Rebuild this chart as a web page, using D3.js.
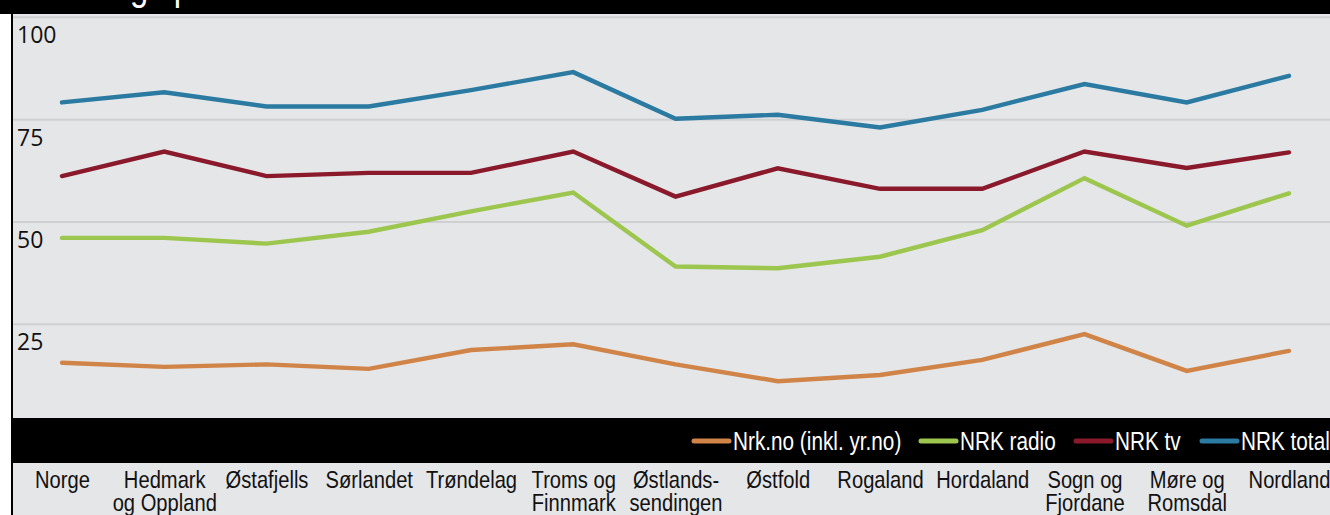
<!DOCTYPE html>
<html><head><meta charset="utf-8">
<script src="https://cdn.jsdelivr.net/npm/d3@7"></script>
<style>
html,body{margin:0;padding:0;background:#fff;}
svg{display:block;}
</style></head>
<body>
<svg id="c" width="1330" height="515"></svg>
<script>
const title = "Dekning i prosent";
const categories = [["Norge"],["Hedmark","og Oppland"],["Østafjells"],["Sørlandet"],["Trøndelag"],["Troms og","Finnmark"],["Østlands-","sendingen"],["Østfold"],["Rogaland"],["Hordaland"],["Sogn og","Fjordane"],["Møre og","Romsdal"],["Nordland"]];
const seriesNames = ["Nrk.no (inkl. yr.no)","NRK radio","NRK tv","NRK total"];
const nrkNo    = [15.6, 14.6, 15.2, 14.1, 18.7, 20.1, 15.2, 11.1, 12.6, 16.3, 22.6, 13.6, 18.5];
const nrkRadio = [46.1, 46.1, 44.7, 47.6, 52.6, 57.2, 39.1, 38.7, 41.5, 48.0, 60.7, 49.1, 57.0];
const nrkTv    = [61.2, 67.2, 61.2, 62.0, 62.0, 67.2, 56.2, 63.1, 58.1, 58.1, 67.2, 63.2, 67.0];
const nrkTotal = [79.2, 81.7, 78.2, 78.2, 82.2, 86.6, 75.2, 76.2, 73.1, 77.4, 83.7, 79.2, 85.7];
const yTicks = [25, 50, 75, 100];
const colors = ["#d08448", "#9dc64e", "#8a1a2b", "#2a7aa1"];

const svg = d3.select("#c");
const W = 1330, H = 515;
const COND = "Liberation Sans Narrow, Liberation Sans, Arial, sans-serif";
const keys = categories.map(c => c.join(" "));
const x = d3.scalePoint().domain(keys).range([62, 1289]);
const y = d3.scaleLinear().domain([0, 100]).range([426.6, 17.3]);

// backgrounds
svg.append("rect").attr("x", 12).attr("y", 0).attr("width", W - 12).attr("height", H).attr("fill", "#e5e6e8");
svg.append("rect").attr("x", 0).attr("y", 0).attr("width", W).attr("height", 14).attr("fill", "#000");
svg.append("text").attr("transform", "translate(28,0) scale(0.82,1)").attr("fill", "#fff")
  .attr("font-family", COND).attr("font-size", 40)
  .text(title);

// grid
const grid = svg.append("g");
grid.selectAll("line").data(yTicks).join("line")
  .attr("x1", 13).attr("x2", W).attr("y1", d => y(d)).attr("y2", d => y(d))
  .attr("stroke", "#cfd0d2").attr("stroke-width", 2);
grid.selectAll("text").data(yTicks).join("text")
  .attr("x", 17).attr("y", d => y(d) + 26)
  .attr("font-family", "Open Sans, Noto Sans, sans-serif").attr("font-size", 23).attr("fill", "#111")
  .text(d => d);

// lines
const all = [nrkNo, nrkRadio, nrkTv, nrkTotal];
const line = d3.line().x((d, i) => x(keys[i])).y(d => y(d));
svg.append("g").selectAll("path").data(all).join("path")
  .attr("d", d => line(d)).attr("fill", "none")
  .attr("stroke", (d, i) => colors[i]).attr("stroke-width", 4.4)
  .attr("stroke-linecap", "round").attr("stroke-linejoin", "miter");

// legend band
svg.append("rect").attr("x", 12).attr("y", 418).attr("width", W - 12).attr("height", 45).attr("fill", "#000");
const legX = [694, 921, 1076, 1202];
const lg = svg.append("g").selectAll("g").data(seriesNames).join("g")
  .attr("transform", (d, i) => `translate(${legX[i]},441)`);
lg.append("line").attr("x1", 0).attr("x2", 35).attr("y1", 0).attr("y2", 0)
  .attr("stroke", (d, i) => colors[i]).attr("stroke-width", 5).attr("stroke-linecap", "round");
lg.append("text").attr("transform", "translate(39,9) scale(0.83,1)").attr("fill", "#fff")
  .attr("font-family", COND).attr("font-size", 25)
  .text(d => d);

// x axis labels
const xa = svg.append("g").attr("transform", "translate(0,465)")
  .call(d3.axisBottom(x).tickSize(0).tickFormat(""));
xa.select(".domain").remove();
xa.selectAll(".tick").append("text")
  .attr("transform", "scale(0.84,1)")
  .attr("text-anchor", "middle").attr("fill", "#111")
  .attr("font-family", COND).attr("font-size", 24)
  .each(function(d, i) {
    const t = d3.select(this);
    categories[i].forEach((s, j) => {
      t.append("tspan").attr("x", 0).attr("y", 23 + j * 23.5).text(s);
    });
  });

// left axis line
svg.append("rect").attr("x", 11).attr("y", 0).attr("width", 2).attr("height", H).attr("fill", "#000");
</script>
</body></html>
